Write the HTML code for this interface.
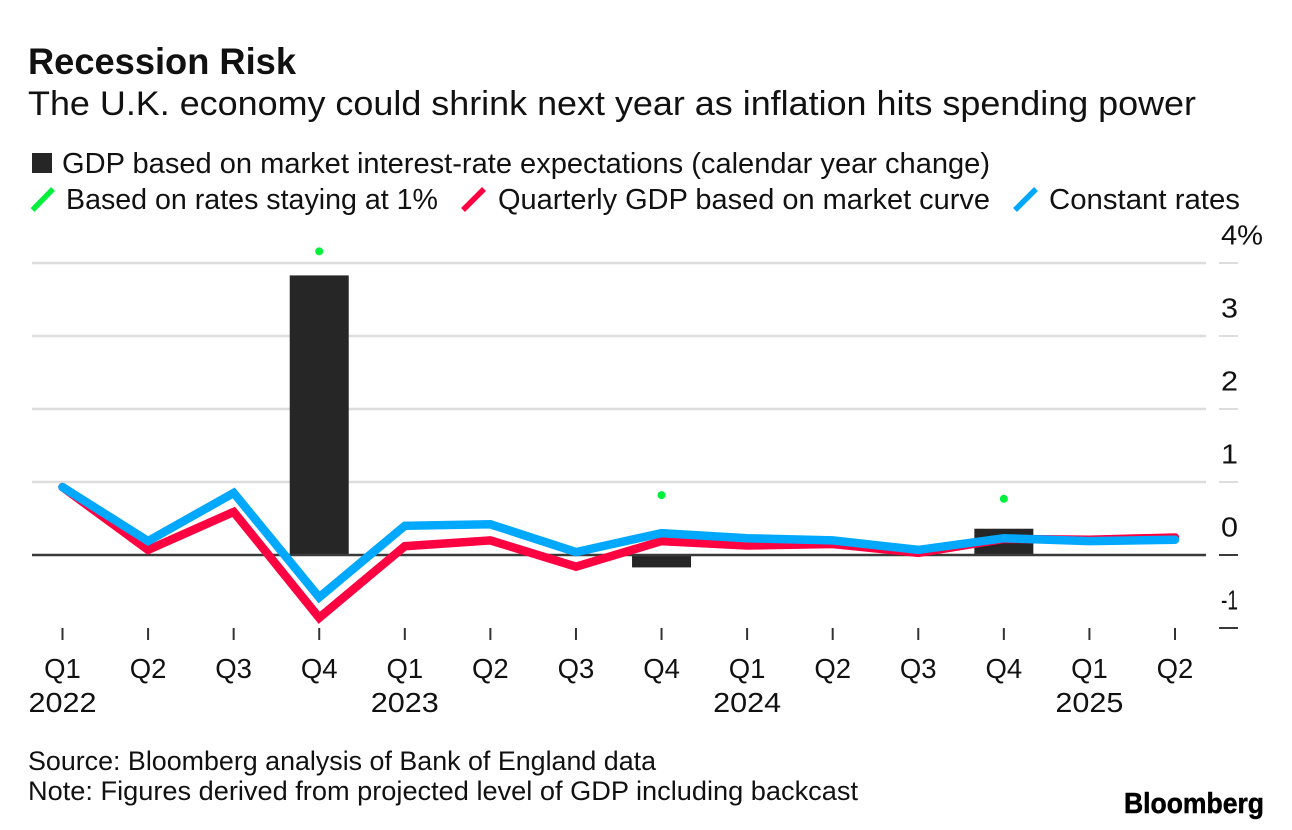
<!DOCTYPE html>
<html lang="en">
<head>
<meta charset="utf-8">
<title>Recession Risk</title>
<style>
html,body{margin:0;padding:0;background:#fff;}
svg{display:block;font-family:"Liberation Sans",Arial,sans-serif;fill:#111;}
.title{font-size:37px;font-weight:700;}
.sub{font-size:34px;}
.leg{font-size:28.5px;}
.tick{font-size:27.5px;}
.foot{font-size:27px;}
</style>
</head>
<body>
<svg id="chart" xmlns="http://www.w3.org/2000/svg" width="1292" height="830" viewBox="0 0 1292 830">
  <rect x="0" y="0" width="1292" height="830" fill="#fff"/>
  <text class="title" x="28" y="74" textLength="268" lengthAdjust="spacingAndGlyphs">Recession Risk</text>
  <text class="sub" x="28" y="115" textLength="1168" lengthAdjust="spacingAndGlyphs">The U.K. economy could shrink next year as inflation hits spending power</text>

  <rect x="32" y="153" width="20" height="20" fill="#262626"/>
  <text class="leg" x="62" y="173" textLength="928" lengthAdjust="spacingAndGlyphs">GDP based on market interest-rate expectations (calendar year change)</text>
  <line x1="32.5" y1="210" x2="53" y2="189" stroke="#00f03c" stroke-width="5.5"/>
  <text class="leg" x="66" y="209" textLength="372" lengthAdjust="spacingAndGlyphs">Based on rates staying at 1%</text>
  <line x1="463" y1="210" x2="484" y2="189" stroke="#ff0040" stroke-width="5.5"/>
  <text class="leg" x="498" y="209" textLength="492" lengthAdjust="spacingAndGlyphs">Quarterly GDP based on market curve</text>
  <line x1="1015" y1="210" x2="1036" y2="189" stroke="#00a8ff" stroke-width="5.5"/>
  <text class="leg" x="1049" y="209" textLength="191" lengthAdjust="spacingAndGlyphs">Constant rates</text>

  <g id="grid"></g>
  <g id="yticks"></g>
  <g id="bars"></g>
  <g id="zero"></g>
  <g id="lines"></g>
  <g id="dots"></g>
  <g id="xticks"></g>

  <text class="foot" x="28" y="770" textLength="628" lengthAdjust="spacingAndGlyphs">Source: Bloomberg analysis of Bank of England data</text>
  <text class="foot" x="28" y="800" textLength="830" lengthAdjust="spacingAndGlyphs">Note: Figures derived from projected level of GDP including backcast</text>
  <text x="1124" y="813" font-size="29" font-weight="700" fill="#000" stroke="#000" stroke-width="0.5" textLength="140" lengthAdjust="spacingAndGlyphs">Bloomberg</text>
</svg>
<script>
const quarters = ["Q1","Q2","Q3","Q4","Q1","Q2","Q3","Q4","Q1","Q2","Q3","Q4","Q1","Q2"];
const years = ["2022",null,null,null,"2023",null,null,null,"2024",null,null,null,"2025",null];
const constantRates = [0.93,0.19,0.85,-0.58,0.40,0.42,0.04,0.30,0.23,0.20,0.07,0.23,0.19,0.21];
const marketCurve = [0.93,0.07,0.59,-0.86,0.12,0.20,-0.16,0.19,0.13,0.15,0.03,0.22,0.21,0.24];
const calendarGdp = [null,null,null,3.83,null,null,null,-0.17,null,null,null,0.36,null,null];
const ratesAtOnePct = [null,null,null,4.16,null,null,null,0.82,null,null,null,0.77,null,null];
const yTickValues = [4,3,2,1,0,-1];
const yTickLabels = ["4%","3","2","1","0","-1"];

const NS = "http://www.w3.org/2000/svg";
function xAt(i){ return 62.5 + i * (1175 - 62.5) / 13; }
function yAt(v){ return 555 - v * 73; }
function make(tag, parent, attrs, text){
  const el = document.createElementNS(NS, tag);
  for (const k in attrs) el.setAttribute(k, attrs[k]);
  if (text !== undefined) el.textContent = text;
  document.getElementById(parent).appendChild(el);
  return el;
}

yTickValues.forEach(function(v, i){
  const color = v === 0 ? "#3a3a3a" : (v === -1 ? "#3a3a3a" : "#ddd");
  if (v !== -1) {
    const g = make("line", v === 0 ? "zero" : "grid", {x1:32, x2:1206, y1:yAt(v), y2:yAt(v), stroke:color, "stroke-width": 2.5});
    
    
  }
  const m = make("line", "grid", {x1:1219, x2:1238, y1:yAt(v), y2:yAt(v), stroke:color, "stroke-width": 2});
  
  
  const attrs = {x: 1221, y: yAt(v) - 18.5, "class":"tick"};
  const label = yTickLabels[i];
  attrs.textLength = label.length === 2 ? (label === "4%" ? 42 : 17) : 17;
  attrs.lengthAdjust = "spacingAndGlyphs";
  const t = make("text", "yticks", attrs, label);
  
  
});

calendarGdp.forEach(function(v, i){
  if (v === null) return;
  const top = Math.min(yAt(v), yAt(0));
  const r = make("rect", "bars", {x:xAt(i) - 29.5, y:top, width:59, height:Math.abs(yAt(v) - yAt(0)), fill:"#262626"});
  
  
});

function pathFor(values){
  return values.map(function(v, i){ return (i ? "L" : "M") + xAt(i).toFixed(1) + " " + yAt(v).toFixed(1); }).join(" ");
}
const redLine = make("path", "lines", {d:pathFor(marketCurve), fill:"none", stroke:"#ff0040", "stroke-width":8.5, "stroke-linejoin":"miter", "stroke-linecap":"round"});


const blueLine = make("path", "lines", {d:pathFor(constantRates), fill:"none", stroke:"#00a8ff", "stroke-width":8.5, "stroke-linejoin":"miter", "stroke-linecap":"round"});



ratesAtOnePct.forEach(function(v, i){
  if (v === null) return;
  const c = make("circle", "dots", {cx:xAt(i), cy:yAt(v), r:4, fill:"#00f03c"});
  
  
});

quarters.forEach(function(q, i){
  const m = make("line", "xticks", {x1:xAt(i), x2:xAt(i), y1:628, y2:640, stroke:"#333", "stroke-width":2});
  
  
  const t = make("text", "xticks", {x:xAt(i), y:678, "text-anchor":"middle", "class":"tick"}, q);
  
  
  if (years[i]) {
    const y = make("text", "xticks", {x:xAt(i) - 34, y:712, "class":"tick", textLength:68, lengthAdjust:"spacingAndGlyphs"}, years[i]);
    
    
  }
});
</script>
</body>
</html>
